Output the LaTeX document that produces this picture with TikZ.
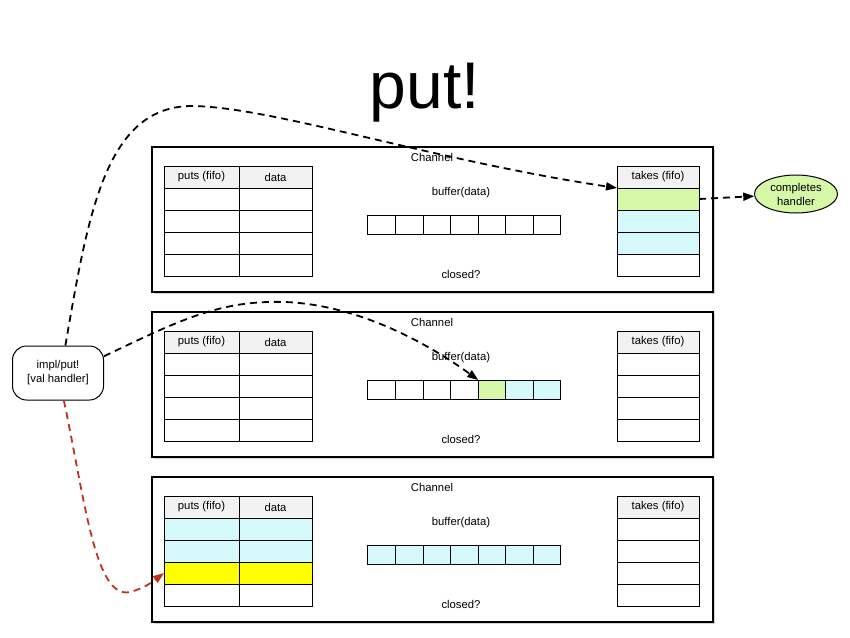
\documentclass[tikz,border=0pt]{standalone}
\usepackage{fontspec}
\setmainfont{Liberation Sans}
\usetikzlibrary{arrows.meta,shapes.geometric,shadows}

\definecolor{hdrgray}{RGB}{242,242,242}
\definecolor{takegreen}{RGB}{214,246,168}
\definecolor{bufcyan}{RGB}{214,250,252}
\definecolor{putyellow}{RGB}{255,255,0}
\definecolor{putred}{RGB}{190,50,30}

\tikzset{
    txt/.style={font=\fontsize{11.3}{14}\selectfont, inner sep=1pt},
    chan/.style={draw, line width=1.2pt, fill=white, minimum width=561, minimum height=145, inner sep=0,
        drop shadow={opacity=0.35, shadow xshift=1.5pt, shadow yshift=-1.5pt}},
    cell/.style={draw, line width=1pt, minimum height=22, inner sep=0, outer sep=0, txt},
    hdr/.style={fill=hdrgray},
    putw/.style={minimum width=75},
    dataw/.style={minimum width=73},
    takew/.style={minimum width=82},
    bufcell/.style={draw, line width=1pt, minimum width=27.57, minimum height=19, inner sep=0, outer sep=0},
    dasharrow/.style={line width=1.8pt, dash pattern=on 7pt off 5pt, -{Triangle[length=11pt, width=8pt]}}
}

% one channel: name, y offset, puts rows, buffer cells, takes rows
\newcommand{\drawchannel}[5]{%
  \begin{scope}[shift={(0,#2)}]
    \node[chan] (#1) at (432.5,219.5) {};
    \node[txt] (#1-name) at (432,157) {Channel};
    \node[txt] (#1-buf) at (461,193) {buffer(data)};
    \node[txt] (#1-closed) at (461,274) {closed?};
    \node[cell, hdr, putw] (#1-ph) at (201.5,177) {puts (fifo)};
    \node[cell, hdr, dataw] (#1-dh) at (275.5,177) {data};
    \node[cell, hdr, takew] (#1-th) at (658,177) {takes (fifo)};
    \foreach \c [count=\i] in {#3} {
      \node[cell, putw, fill=\c] (#1-p\i) at (201.5,177+22*\i) {};
      \node[cell, dataw, fill=\c] (#1-d\i) at (275.5,177+22*\i) {};
    }
    \foreach \c [count=\i] in {#4} {
      \node[bufcell, fill=\c] (#1-b\i) at (354.2+27.57*\i,224.5) {};
    }
    \foreach \c [count=\i] in {#5} {
      \node[cell, takew, fill=\c] (#1-t\i) at (658,177+22*\i) {};
    }
  \end{scope}
}

\begin{document}
\begin{tikzpicture}[x=1pt, y=-1pt]
    \useasboundingbox (0,0) rectangle (850,637);

    \node[anchor=base, font=\fontsize{66}{66}\selectfont, inner sep=0] (title) at (425,108) {put!};

    \drawchannel{ch1}{0}{white,white,white,white}{white,white,white,white,white,white,white}{takegreen,bufcyan,bufcyan,white}
    \drawchannel{ch2}{165}{white,white,white,white}{white,white,white,white,takegreen,bufcyan,bufcyan}{white,white,white,white}
    \drawchannel{ch3}{330}{bufcyan,bufcyan,putyellow,white}{bufcyan,bufcyan,bufcyan,bufcyan,bufcyan,bufcyan,bufcyan}{white,white,white,white}

    \node[draw, line width=1pt, rounded corners=14pt, minimum width=91, minimum height=54, align=center, txt] (impl) at (58,373) {impl/put!\\{[val handler]}};
    \node[ellipse, draw, line width=1pt, fill=takegreen, minimum width=83, minimum height=38, inner sep=0, align=center, txt] (done) at (796,194) {completes\\handler};

    \draw[dasharrow] (impl.75) .. controls (88,215) and (105,108) .. (190,106) .. controls (270,106) and (430,160) .. (ch1-t1.north west);
    \draw[dasharrow] (ch1-t1.east) -- (done);
    \draw[dasharrow] (impl.20) .. controls (180,320) and (220,300) .. (285,302) .. controls (360,305) and (430,345) .. (ch2-b5.north west);
    \draw[dasharrow, putred] (impl.-78) .. controls (85,500) and (95,600) .. (130,592) .. controls (145,588) and (152,582) .. (ch3-p3.west);
\end{tikzpicture}
\end{document}
